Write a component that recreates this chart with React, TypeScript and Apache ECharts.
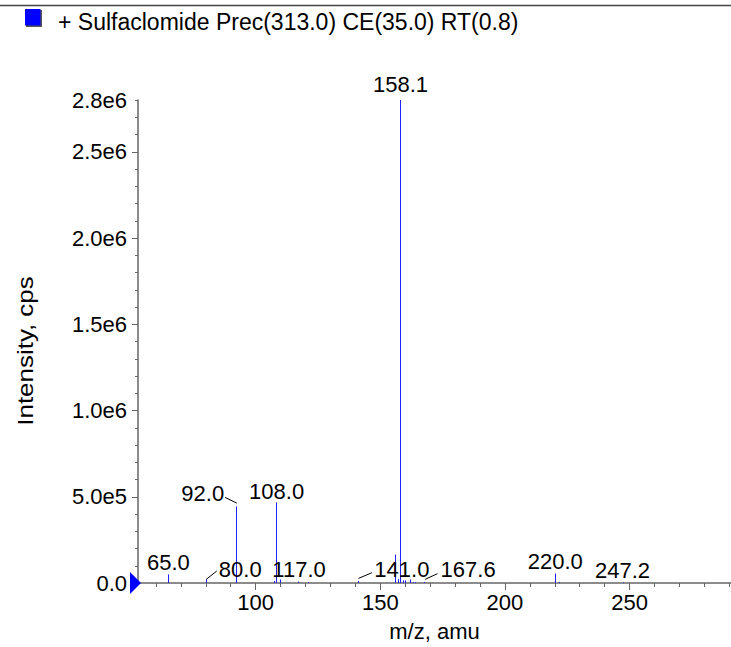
import React, { useEffect, useRef } from "react";
import * as echarts from "echarts";

const TITLE = "+ Sulfaclomide Prec(313.0) CE(35.0) RT(0.8)";
const X_NAME = "m/z, amu";
const Y_NAME = "Intensity, cps";

const X_MIN = 52.8;
const X_MAX = 290.7;
const Y_MIN = 0;
const Y_MAX = 2800000;

const xMajorTicks = [100, 150, 200, 250];
const xMinorTicks = [60, 70, 80, 90, 100, 110, 120, 130, 140, 150, 160, 170, 180, 190, 200, 210, 220, 230, 240, 250, 260, 270, 280, 290];
const yLabelValues = [0, 500000, 1000000, 1500000, 2000000, 2500000, 2800000];
const yLabelTexts = ["0.0", "5.0e5", "1.0e6", "1.5e6", "2.0e6", "2.5e6", "2.8e6"];
const yMajorTicks = [0, 500000, 1000000, 1500000, 2000000, 2500000];
const yMinorTicks = [
  0, 100000, 200000, 300000, 400000, 500000, 600000, 700000, 800000, 900000,
  1000000, 1100000, 1200000, 1300000, 1400000, 1500000, 1600000, 1700000, 1800000, 1900000,
  2000000, 2100000, 2200000, 2300000, 2400000, 2500000, 2600000, 2700000, 2800000,
];

const peakMz = [65.0, 80.0, 92.0, 107.2, 108.0, 109.8, 117.0, 121.1, 141.0, 156.0, 157.3, 158.1, 159.0, 160.0, 161.8, 163.0, 164.0, 167.6, 220.0, 221.6, 247.2];
const peakIntensity = [50000, 21000, 444000, 12000, 467000, 21000, 8000, 5000, 12000, 165000, 22000, 2800000, 15000, 15000, 20000, 5000, 5000, 6000, 55000, 6000, 4000];

const labelMz = [65.0, 80.0, 92.0, 108.0, 117.0, 141.0, 158.1, 167.6, 220.0, 247.2];
const labelText = ["65.0", "80.0", "92.0", "108.0", "117.0", "141.0", "158.1", "167.6", "220.0", "247.2"];

// label placement relative to the peak top (pixels) - style only
const LABEL_LAYOUT: { dx: number; dy: number; leader?: number[] }[] = [
  { dx: 0, dy: -11.7 },
  { dx: 34.4, dy: -10.2, leader: [0.4, 0, 11, -8.4] },
  { dx: -33, dy: -13.3, leader: [-10.6, -9, 1.1, -3.3] },
  { dx: 1, dy: -11.3 },
  { dx: 1, dy: -12.4 },
  { dx: 44, dy: -11.2, leader: [0.6, -2.5, 14, -8.2] },
  { dx: 0, dy: -16 },
  { dx: 44, dy: -12.3, leader: [1, -2.6, 13.3, -8.3] },
  { dx: 0.5, dy: -12.4 },
  { dx: 0, dy: -11.6 },
];

const FONT = "Liberation Sans";
const AXIS_COLOR = "#666";
const STICK_COLOR = "#2020ff";

export default function App() {
  const ref = useRef<HTMLDivElement>(null);
  useEffect(() => {
    if (!ref.current) return;
    const chart = echarts.init(ref.current, null, { renderer: "svg" });
    const stickData = peakMz.map((m, i) => [m, peakIntensity[i]]);
    const labelData = labelMz.map((m, i) => [m, peakIntensity[peakMz.indexOf(m)], i]);

    const option: any = {
      animation: false,
      backgroundColor: "#fff",
      textStyle: { fontFamily: FONT },
      grid: { left: 138, right: 0, top: 100, bottom: 62, containLabel: false },
      graphic: [
        { type: "line", shape: { x1: 0, y1: 5.5, x2: 731, y2: 5.5 }, style: { stroke: "#444", lineWidth: 1.5 } },
        { type: "rect", shape: { x: 26, y: 10, width: 16, height: 17 }, style: { fill: "#555" } },
        { type: "rect", shape: { x: 25, y: 9, width: 15.5, height: 16.5 }, style: { fill: "#0000ff" } },
        {
          type: "text",
          x: 58,
          y: 21.5,
          style: { text: TITLE, fontSize: 23, fontFamily: FONT, fill: "#000", align: "left", verticalAlign: "middle" },
        },
        {
          type: "text",
          x: 25,
          y: 351,
          rotation: Math.PI / 2,
          scaleX: 1.18,
          style: { text: Y_NAME, fontSize: 22, fontFamily: FONT, fill: "#000", align: "center", verticalAlign: "middle" },
        },
      ],
      xAxis: [
        {
          type: "value",
          min: X_MIN,
          max: X_MAX,
          position: "bottom",
          name: X_NAME,
          nameLocation: "middle",
          nameGap: 37,
          nameTextStyle: { fontSize: 22, color: "#000", fontFamily: FONT, verticalAlign: "top" },
          axisLine: { show: true, lineStyle: { color: AXIS_COLOR, width: 1.5 } },
          axisTick: { show: true, customValues: xMajorTicks, length: 7, lineStyle: { color: AXIS_COLOR } },
          axisLabel: { customValues: xMajorTicks, fontSize: 22, color: "#000", margin: 8, fontFamily: FONT },
          splitLine: { show: false },
        },
        {
          type: "value",
          min: X_MIN,
          max: X_MAX,
          position: "bottom",
          axisLine: { show: false },
          axisTick: { show: true, customValues: xMinorTicks, length: 4, lineStyle: { color: AXIS_COLOR } },
          axisLabel: { show: false },
          splitLine: { show: false },
        },
      ],
      yAxis: [
        {
          type: "value",
          min: Y_MIN,
          max: Y_MAX,
          position: "left",
          axisLine: { show: true, lineStyle: { color: AXIS_COLOR, width: 1.5 } },
          axisTick: { show: true, customValues: yMajorTicks, length: 6, lineStyle: { color: AXIS_COLOR } },
          axisLabel: {
            customValues: yLabelValues,
            fontSize: 22,
            color: "#000",
            margin: 11,
            fontFamily: FONT,
            formatter: (v: number) => {
              const k = yLabelValues.indexOf(v);
              return k >= 0 ? yLabelTexts[k] : "";
            },
          },
          splitLine: { show: false },
        },
        {
          type: "value",
          min: Y_MIN,
          max: Y_MAX,
          position: "left",
          axisLine: { show: false },
          axisTick: { show: true, customValues: yMinorTicks, length: 3, lineStyle: { color: AXIS_COLOR } },
          axisLabel: { show: false },
          splitLine: { show: false },
        },
      ],
      series: [
        {
          type: "custom",
          name: TITLE,
          xAxisIndex: 0,
          yAxisIndex: 0,
          data: stickData,
          renderItem: (_params: any, api: any) => {
            const top = api.coord([api.value(0), api.value(1)]);
            const base = api.coord([api.value(0), 0]);
            const x = Math.round(top[0]) + 0.5;
            return {
              type: "line",
              shape: { x1: x, y1: top[1], x2: x, y2: base[1] },
              style: { stroke: STICK_COLOR, lineWidth: 1 },
            };
          },
        },
        {
          type: "custom",
          xAxisIndex: 0,
          yAxisIndex: 0,
          clip: false,
          data: labelData,
          renderItem: (params: any, api: any) => {
            const idx = params.dataIndex;
            const p = api.coord([api.value(0), api.value(1)]);
            const L = LABEL_LAYOUT[idx];
            const children: any[] = [
              {
                type: "text",
                x: p[0] + L.dx,
                y: p[1] + L.dy,
                style: {
                  text: labelText[idx],
                  fontSize: 22,
                  fontFamily: FONT,
                  fill: "#000",
                  align: "center",
                  verticalAlign: "middle",
                },
              },
            ];
            if (L.leader) {
              children.push({
                type: "line",
                shape: {
                  x1: p[0] + L.leader[0],
                  y1: p[1] + L.leader[1],
                  x2: p[0] + L.leader[2],
                  y2: p[1] + L.leader[3],
                },
                style: { stroke: "#000", lineWidth: 1 },
              });
            }
            return { type: "group", children };
          },
        },
        {
          type: "custom",
          xAxisIndex: 0,
          yAxisIndex: 0,
          clip: false,
          data: [[X_MIN, Y_MIN]],
          renderItem: (_params: any, api: any) => {
            const p = api.coord([api.value(0), api.value(1)]);
            return {
              type: "polygon",
              shape: { points: [[p[0] - 8, p[1] - 11], [p[0] - 8, p[1] + 11], [p[0] + 3, p[1]]] },
              style: { fill: "#0000ff" },
            };
          },
        },
      ],
    };
    chart.setOption(option);
    return () => chart.dispose();
  }, []);
  return <div ref={ref} style={{ position: "absolute", left: 0, top: 0, width: 731, height: 647 }} />;
}
